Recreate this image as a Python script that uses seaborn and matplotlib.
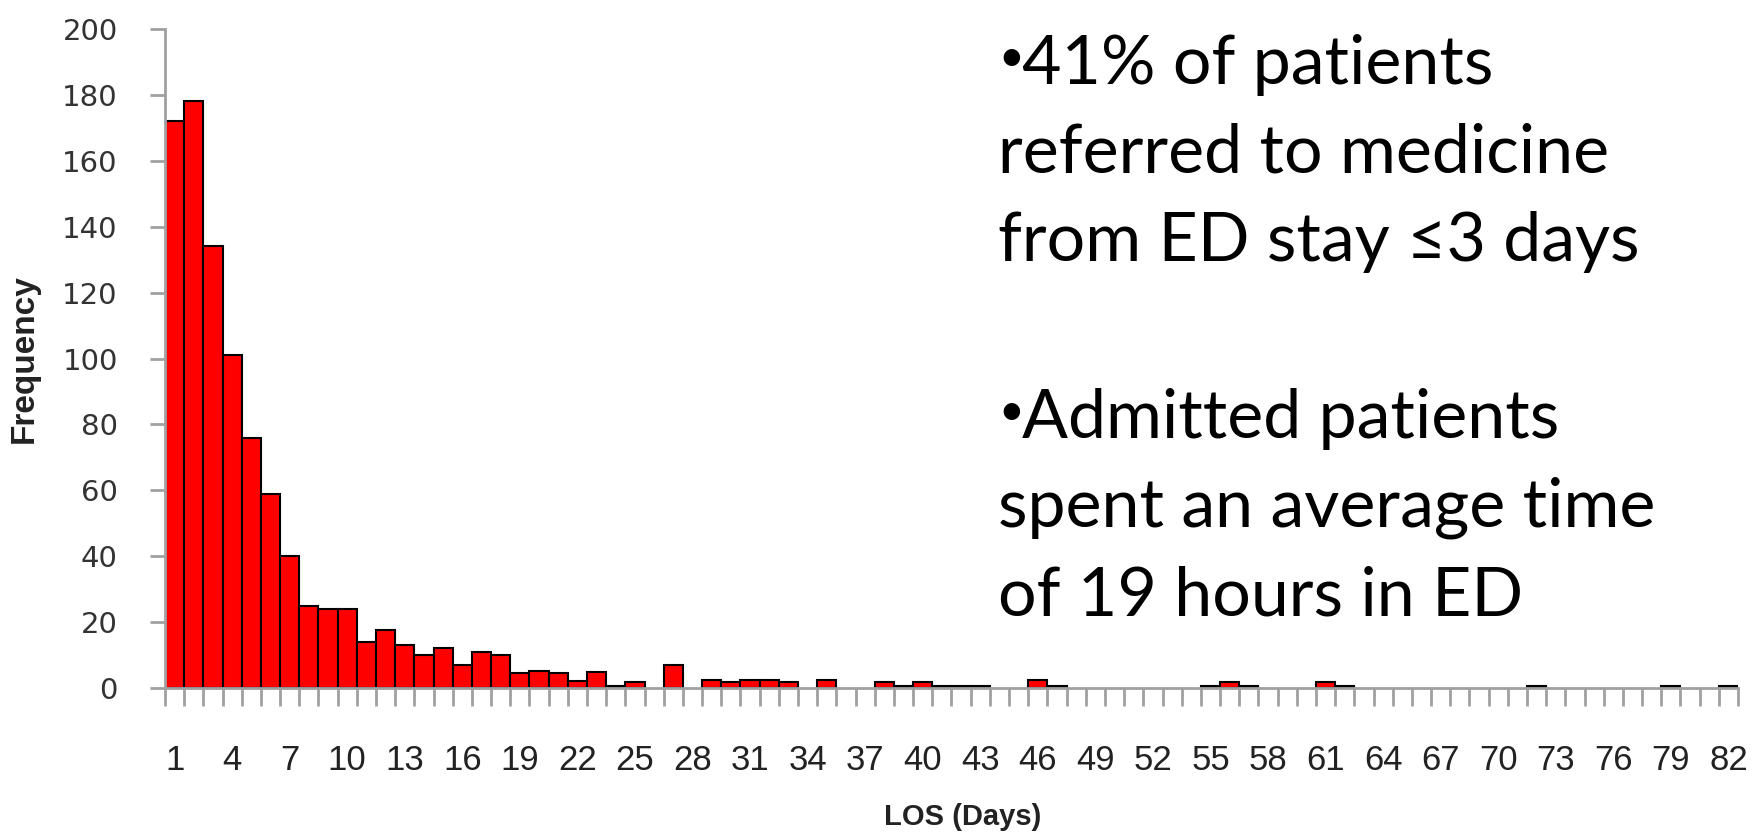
import numpy as np
import pandas as pd
import seaborn as sns
import matplotlib.pyplot as plt

# LOS histogram (days 1..82)
days = list(range(1, 83))
freq = [172, 178, 134, 101, 76, 59, 40, 25, 24, 24,
        14, 17.5, 13, 10, 12, 7, 11, 10, 4.5, 5.2,
        4.6, 2, 5, 0.6, 1.8, 0, 7, 0, 2.3, 1.8,
        2.3, 2.3, 1.8, 0, 2.3, 0, 0, 1.8, 0.6, 1.8,
        0.6, 0.6, 0.6, 0, 0, 2.3, 0.6, 0, 0, 0,
        0, 0, 0, 0, 0.6, 1.8, 0.6, 0, 0, 0,
        1.8, 0.6, 0, 0, 0, 0, 0, 0, 0, 0,
        0, 0.6, 0, 0, 0, 0, 0, 0, 0.6, 0,
        0, 0.6]
yticks = list(range(0, 201, 20))

# (has bullet, text)
notes = [(True, '41% of patients'),
         (False, 'referred to medicine'),
         (False, 'from ED stay \u22643 days'),
         (False, ''),
         (True, 'Admitted patients'),
         (False, 'spent an average time'),
         (False, 'of 19 hours in ED')]

sns.set_style('white')
plt.rcParams['font.family'] = ['DejaVu Sans']
arial = ['Liberation Sans', 'DejaVu Sans']
lato = ['Lato', 'DejaVu Sans']

df = pd.DataFrame({'LOS': days, 'Frequency': freq})

fig = plt.figure(figsize=(17.58, 8.34), dpi=100)
ax = fig.add_axes([165 / 1758, 1 - 688 / 834, 1573 / 1758, 659 / 834])

sns.barplot(data=df, x='LOS', y='Frequency', color='#ff0000', saturation=1,
            width=1, edgecolor='black', linewidth=1.5, ax=ax)
# empty bins: no outline
for p in ax.patches:
    if p.get_height() == 0:
        p.set_linewidth(0)

ax.set_xlim(-0.5, len(days) - 0.5)
ax.set_ylim(0, 200)

for s in ['top', 'right']:
    ax.spines[s].set_visible(False)
for s in ['left', 'bottom']:
    ax.spines[s].set_color('#a0a0a0')
    ax.spines[s].set_linewidth(2)

# y axis
ax.set_yticks(yticks)
ax.set_yticklabels([str(v) for v in yticks])
ax.tick_params(axis='y', direction='out', length=11, width=2, color='#a0a0a0',
               labelsize=21, labelcolor='#333333', pad=23, left=True)

# x axis: ticks on bin edges, labels every 3rd day on bin centres
ax.set_xticks(np.arange(-0.5, len(days)), labels=[])
ax.tick_params(axis='x', which='major', direction='out', length=13, width=2,
               color='#a0a0a0', bottom=True)
ax.set_xticks(np.arange(0, len(days), 3), minor=True)
ax.set_xticklabels([str(d) for d in days[::3]], minor=True, family=arial)
ax.tick_params(axis='x', which='minor', length=0, labelsize=25,
               labelcolor='#222222', pad=40)

ax.set_xlabel('')
ax.set_ylabel('')
fig.text(963 / 1758, 1 - 817 / 834, 'LOS (Days)', ha='center', va='center',
         fontsize=21, fontweight='bold', family=arial, color='#222222')
fig.text(24 / 1758, 1 - 359 / 834, 'Frequency', ha='center', va='center',
         rotation=90, fontsize=24, fontweight='bold', family=arial,
         color='#222222')

# bullet text on the right
y0 = 84
for i, (bullet, line) in enumerate(notes):
    if not line:
        continue
    y = 1 - (y0 + i * 88.5) / 834
    x = 998 / 1758
    if bullet:
        fig.text(x, y + 0.016, '\u2022', ha='left', va='baseline', fontsize=32,
                 family=lato, color='black')
        x = 1022 / 1758
    fig.text(x, y, line, ha='left', va='baseline', fontsize=49,
             family=lato, color='black')

fig.savefig('out.png', dpi=100)
